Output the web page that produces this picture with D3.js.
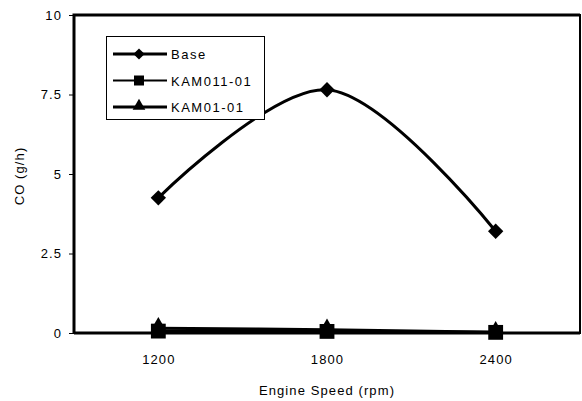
<!DOCTYPE html>
<html>
<head>
<meta charset="utf-8">
<script src="https://cdn.jsdelivr.net/npm/d3@7"></script>
<style>
  html, body { margin: 0; padding: 0; background: #fff; }
  svg text { font-family: "Liberation Sans", Arial, sans-serif; font-size: 13px; letter-spacing: 1.1px; fill: #000; }
</style>
</head>
<body>
<svg id="chart" width="582" height="401"></svg>
<script>
// Engine speeds (rpm) and CO emission (g/h) per fuel
const speeds = ["1200", "1800", "2400"];
const base = [4.25, 7.65, 3.2];
const kam011 = [0.06, 0.05, 0.02];
const kam01 = [0.15, 0.1, 0.02];
const yTicks = [0, 2.5, 5, 7.5, 10];

const series = [
  { name: "Base", values: base, marker: "diamond", width: 3 },
  { name: "KAM011-01", values: kam011, marker: "square", width: 3 },
  { name: "KAM01-01", values: kam01, marker: "triangle", width: 3 }
];

const svg = d3.select("#chart");
const plotL = 74, plotR = 580, plotT = 15, plotB = 333;
const fontFamily = "Liberation Sans, Arial, sans-serif";

const x = d3.scalePoint().domain(speeds).range([plotL, plotR]).padding(0.5);
const y = d3.scaleLinear().domain([0, 10]).range([plotB, plotT]);

// plot frame
svg.append("rect")
  .attr("x", plotL).attr("y", plotT)
  .attr("width", plotR - plotL).attr("height", plotB - plotT)
  .attr("fill", "none").attr("stroke", "#000").attr("stroke-width", 2);
svg.append("path")
  .attr("d", `M${plotL},${plotB}V${plotT}H${plotR}M${plotL},${plotB}H${plotR}`)
  .attr("fill", "none").attr("stroke", "#000").attr("stroke-width", 3);

// y axis
const yAxis = d3.axisLeft(y).tickValues(yTicks).tickSize(4).tickPadding(7)
  .tickFormat(d => String(d));
const gy = svg.append("g").attr("transform", `translate(${plotL - 1},0)`).call(yAxis);
gy.select(".domain").remove();
gy.selectAll("text").style("font-size", "13px").style("font-family", fontFamily);

// x axis labels
const xAxis = d3.axisBottom(x).tickSize(0).tickPadding(22);
const gx = svg.append("g").attr("transform", `translate(0,${plotB})`).call(xAxis);
gx.select(".domain").remove();
gx.selectAll("text").style("font-size", "13px").style("font-family", fontFamily);

// axis titles
svg.append("text").attr("x", 327).attr("y", 395).attr("text-anchor", "middle")
  .text("Engine Speed (rpm)");
svg.append("text").attr("transform", "translate(24,176) rotate(-90)")
  .attr("text-anchor", "middle").text("CO (g/h)");

const symbolFor = {
  diamond: d3.symbol().type(d3.symbolDiamond2).size(150),
  square: d3.symbol().type(d3.symbolSquare).size(220),
  triangle: d3.symbol().type(d3.symbolTriangle).size(90)
};

const line = d3.line()
  .x((d, i) => x(speeds[i]))
  .y(d => y(d))
  .curve(d3.curveCatmullRom.alpha(0.5));

// series, drawn so the base curve sits on top
[...series].reverse().forEach(s => {
  svg.append("path")
    .attr("d", line(s.values))
    .attr("fill", "none").attr("stroke", "#000").attr("stroke-width", s.width);
  svg.append("g").selectAll("path").data(s.values).join("path")
    .attr("transform", (d, i) => `translate(${x(speeds[i])},${y(d) - (s.marker === "triangle" ? 3 : 0)})`)
    .attr("d", symbolFor[s.marker]())
    .attr("fill", "#000");
});

// legend
const lg = svg.append("g");
lg.append("rect").attr("x", 106.5).attr("y", 36.5).attr("width", 158).attr("height", 83)
  .attr("fill", "#fff").attr("stroke", "#000").attr("stroke-width", 1);
const legendSym = {
  diamond: d3.symbol().type(d3.symbolDiamond2).size(80),
  square: d3.symbol().type(d3.symbolSquare).size(100),
  triangle: d3.symbol().type(d3.symbolTriangle).size(70)
};
series.forEach((s, i) => {
  const ly = 54 + i * 26.5;
  lg.append("line").attr("x1", 113).attr("x2", 167).attr("y1", ly).attr("y2", ly)
    .attr("stroke", "#000").attr("stroke-width", s.marker === "square" ? 2 : 3);
  lg.append("path").attr("transform", `translate(139,${ly - (s.marker === "triangle" ? 1 : 0)})`)
    .attr("d", legendSym[s.marker]()).attr("fill", "#000");
  lg.append("text").attr("x", 171).attr("y", ly + 5).style("letter-spacing", "1.5px").text(s.name);
});
</script>
</body>
</html>
